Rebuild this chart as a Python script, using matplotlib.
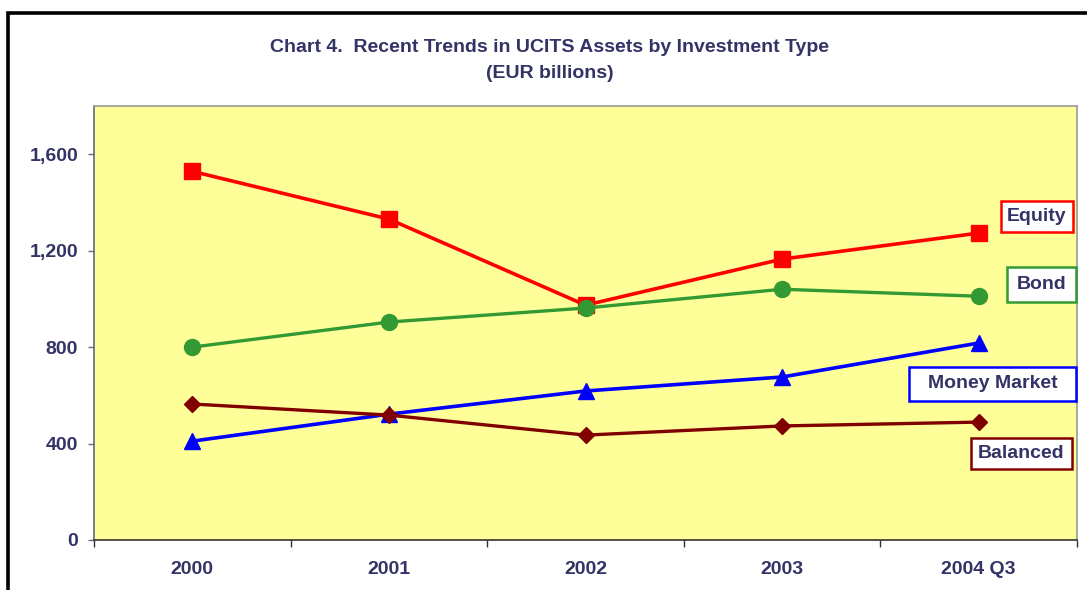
import matplotlib.pyplot as plt
from matplotlib.patches import Rectangle
from matplotlib.ticker import FuncFormatter

# values (EUR billions)
periods = ["2000", "2001", "2002", "2003", "2004 Q3"]
equity = [1529, 1331, 974, 1165, 1273]
bond = [800, 904, 962, 1040, 1011]
money_market = [410, 522, 618, 676, 817]
balanced = [564, 518, 435, 473, 489]
y_ticks = [0, 400, 800, 1200, 1600]

TEXT = "#333366"
W, H = 1087, 590

plt.rcParams['font.family'] = ['Liberation Sans', 'DejaVu Sans']
plt.rcParams['font.weight'] = 'bold'

fig = plt.figure(figsize=(W / 100, H / 100), dpi=100)
fig.patch.set_facecolor("white")

# plot area in pixels: left 94, right 1077, top 106, bottom 540
ax = fig.add_axes([94 / W, 1 - 540 / H, (1077 - 94) / W, (540 - 106) / H])
ax.set_facecolor("#FFFF99")

x = list(range(len(periods)))
ax.plot(x, equity, color="#FF0000", lw=2.6, marker="s", ms=11.5, zorder=3)
ax.plot(x, bond, color="#339933", lw=2.4, marker="o", ms=11.5, zorder=4)
ax.plot(x, money_market, color="#0000FF", lw=2.6, marker="^", ms=12, zorder=3)
ax.plot(x, balanced, color="#800000", lw=2.4, marker="D", ms=8, zorder=3)

ax.set_xlim(-0.5, len(periods) - 0.5)
ax.set_ylim(0, 1800)

ax.set_yticks(y_ticks)
ax.yaxis.set_major_formatter(FuncFormatter(lambda v, p: f"{int(v):,}"))
ax.tick_params(axis="y", length=4.5, width=1, color="#666680", pad=7,
               labelsize=14, labelcolor=TEXT)

# category labels at centers, tick marks at boundaries
ax.set_xticks(x)
ax.set_xticklabels(periods)
ax.set_xticks([i - 0.5 for i in range(len(periods) + 1)], minor=True)
ax.tick_params(axis="x", which="major", length=0, pad=15, labelsize=14, labelcolor=TEXT)
ax.tick_params(axis="x", which="minor", length=5, width=1, color="#333333")

ax.spines["left"].set_color("#666680")
ax.spines["bottom"].set_color("#333333")
ax.spines["top"].set_color("#999999")
ax.spines["right"].set_color("#999999")
for s in ax.spines.values():
    s.set_linewidth(1.2)

# series labels in boxes (pixel boxes: x0, y0, x1, y1)
labels = [
    ("Equity", "#FF0000", (1001, 201, 1073, 232)),
    ("Bond", "#339933", (1007, 267, 1076, 302)),
    ("Money Market", "#0000FF", (909, 367, 1076, 401)),
    ("Balanced", "#800000", (971, 438, 1072, 469)),
]
for name, col, (x0, y0, x1, y1) in labels:
    ax0 = (x0 - 94) / (1077 - 94)
    ax1 = (x1 - 94) / (1077 - 94)
    ay0 = (540 - y1) / (540 - 106)
    ay1 = (540 - y0) / (540 - 106)
    ax.add_patch(Rectangle((ax0, ay0), ax1 - ax0, ay1 - ay0, transform=ax.transAxes,
                           facecolor="white", edgecolor=col, lw=1.8, zorder=5, clip_on=False))
    ax.text((ax0 + ax1) / 2, (ay0 + ay1) / 2, name, transform=ax.transAxes,
            ha="center", va="center", fontsize=14, color=TEXT, zorder=6)

fig.text(550 / W, 1 - 48 / H, "Chart 4.  Recent Trends in UCITS Assets by Investment Type",
         ha="center", va="center", fontsize=14, color=TEXT)
fig.text(550 / W, 1 - 73 / H, "(EUR billions)",
         ha="center", va="center", fontsize=14, color=TEXT)

# outer black frame, cut off on the right and bottom
fig.patches.append(Rectangle((8 / W, -0.05), 1.1, 1 - 13 / H + 0.05, transform=fig.transFigure,
                             fill=False, edgecolor="black", lw=2.6))

fig.savefig("out.png", dpi=100)
